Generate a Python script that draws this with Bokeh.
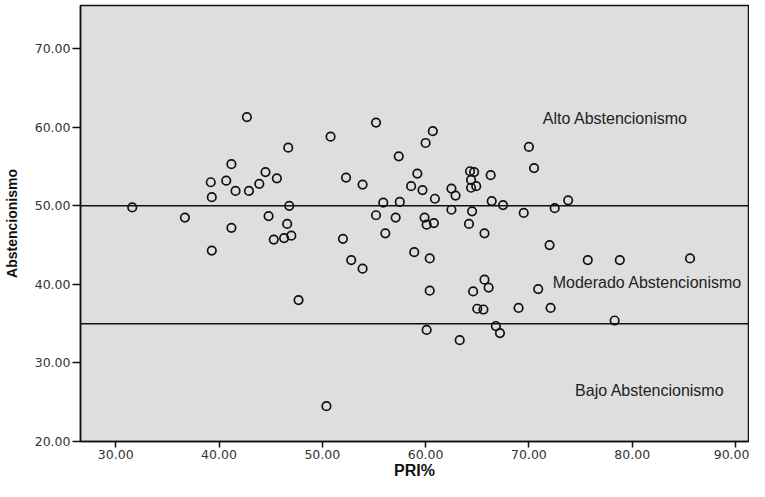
from bokeh.plotting import figure
from bokeh.models import Range1d, FixedTicker, PrintfTickFormatter, Span, Label, ColumnDataSource
from bokeh.embed import file_html
from bokeh.resources import INLINE

# PRI% (x) and Abstencionismo (y) per observation
pri = [31.6, 36.7, 39.2, 39.3, 39.3, 40.7, 41.2, 41.6, 41.2, 42.7,
       42.9, 43.9, 44.5, 45.6, 46.7, 46.8, 44.8, 46.6, 45.3, 46.3,
       47.0, 47.7, 50.4, 50.8, 52.3, 52.0, 52.8, 53.9, 53.9, 55.2,
       55.2, 55.9, 56.1, 57.1, 57.4, 57.5, 58.6, 58.9, 59.2, 59.7,
       59.9, 60.0, 60.1, 60.1, 60.4, 60.4, 60.7, 60.8, 60.9, 62.5,
       62.5, 62.9, 63.3, 64.2, 64.3, 64.7, 64.4, 64.4, 64.9, 64.5,
       64.6, 65.0, 65.6, 65.7, 65.7, 66.1, 66.3, 66.4, 66.8, 67.2,
       67.5, 69.5, 70.0, 70.5, 69.0, 70.9, 72.0, 72.1, 72.5, 73.8,
       75.7, 78.3, 78.8, 85.6]
abst = [49.8, 48.5, 53.0, 51.1, 44.3, 53.2, 55.3, 51.9, 47.2, 61.3,
        51.9, 52.8, 54.3, 53.5, 57.4, 50.0, 48.7, 47.7, 45.7, 45.9,
        46.2, 38.0, 24.5, 58.8, 53.6, 45.8, 43.1, 52.7, 42.0, 60.6,
        48.8, 50.4, 46.5, 48.5, 56.3, 50.5, 52.5, 44.1, 54.1, 52.0,
        48.5, 58.0, 47.6, 34.2, 39.2, 43.3, 59.5, 47.8, 50.9, 49.5,
        52.2, 51.3, 32.9, 47.7, 54.4, 54.3, 53.3, 52.3, 52.5, 49.3,
        39.1, 36.9, 36.8, 40.6, 46.5, 39.6, 53.9, 50.6, 34.7, 33.8,
        50.1, 49.1, 57.5, 54.8, 37.0, 39.4, 45.0, 37.0, 49.7, 50.7,
        43.1, 35.4, 43.1, 43.3]

x_ticks = [30, 40, 50, 60, 70, 80, 90]
y_ticks = [20, 30, 40, 50, 60, 70]
thresholds = [50, 35]
x_title = "PRI%"
y_title = "Abstencionismo"
zone_labels = ["Alto Abstencionismo", "Moderado Abstencionismo", "Bajo Abstencionismo"]
zone_x = [71.35, 72.3, 74.47]
zone_y = [61.16, 40.2, 26.54]

src = ColumnDataSource(data=dict(pri=pri, abst=abst))

p = figure(width=749, height=481, output_backend="svg", toolbar_location=None,
           x_range=Range1d(26.59, 91.26), y_range=Range1d(20, 75.5),
           min_border_left=79, min_border_top=5, min_border_right=1, min_border_bottom=38,
           background_fill_color="#dedede", border_fill_color="white")

p.xgrid.visible = False
p.ygrid.visible = False
p.outline_line_color = "#111111"
p.outline_line_width = 1.5

for ax in (p.xaxis[0], p.yaxis[0]):
    ax.axis_line_color = "#111111"
    ax.axis_line_width = 1.5
    ax.major_tick_line_color = "#111111"
    ax.major_tick_line_width = 1.5
    ax.major_tick_in = 0
    ax.minor_tick_line_color = None
    ax.major_label_text_font = "DejaVu Sans"
    ax.major_label_text_font_size = "12.5px"
    ax.major_label_text_color = "#333333"
    ax.axis_label_text_font = "Liberation Sans"
    ax.axis_label_text_font_style = "bold"
    ax.axis_label_text_color = "#111111"
    ax.formatter = PrintfTickFormatter(format="%.2f")

p.xaxis[0].ticker = FixedTicker(ticks=x_ticks)
p.yaxis[0].ticker = FixedTicker(ticks=y_ticks)
p.xaxis[0].axis_label = x_title
p.yaxis[0].axis_label = y_title
p.xaxis[0].axis_label_text_font_size = "16px"
p.yaxis[0].axis_label_text_font_size = "14px"
p.xaxis[0].major_tick_out = 6
p.yaxis[0].major_tick_out = 8
p.xaxis[0].major_label_standoff = 2
p.yaxis[0].major_label_standoff = 2
p.xaxis[0].axis_label_standoff = 0
p.yaxis[0].axis_label_standoff = 12

for t in thresholds:
    p.add_layout(Span(location=t, dimension="width", line_color="#111111", line_width=1.5))

p.scatter(x="pri", y="abst", source=src, marker="circle", size=8.5,
          fill_color=None, line_color="#111111", line_width=1.7)

for txt, lx, ly in zip(zone_labels, zone_x, zone_y):
    p.add_layout(Label(x=lx, y=ly, text=txt, text_baseline="middle", text_align="left",
                       text_font="Liberation Sans", text_font_size="16px", text_color="#222222"))

open("out.html", "w").write(file_html(p, INLINE))
